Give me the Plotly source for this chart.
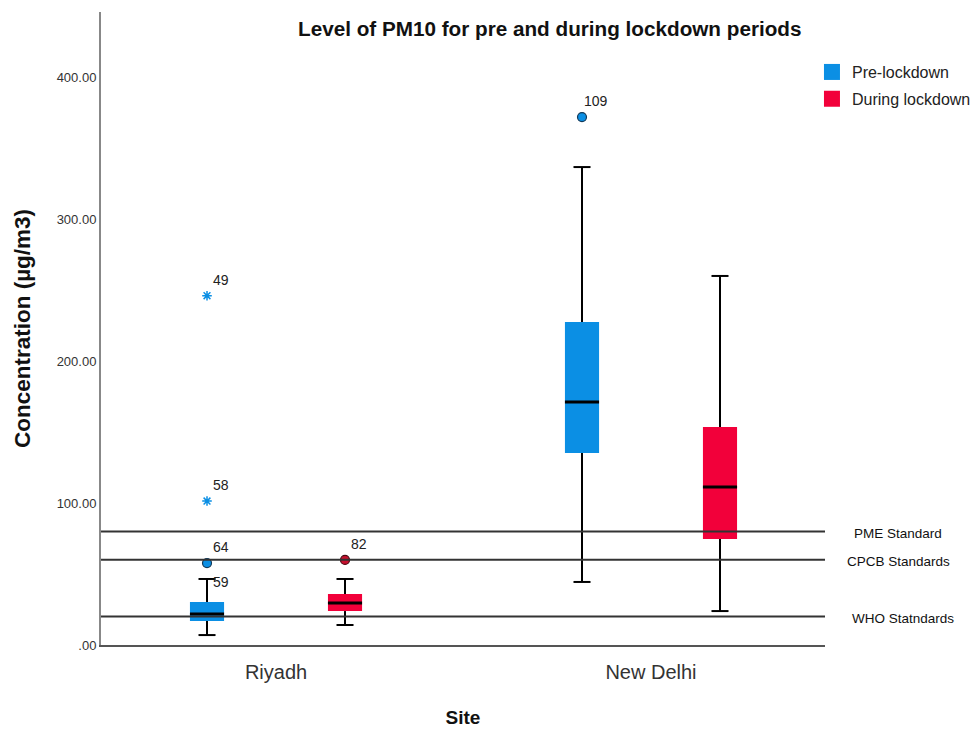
import plotly.graph_objects as go

# ---------------- data ----------------
sites = ["Riyadh", "New Delhi"]
groups = ["Pre-lockdown", "During lockdown"]

pre_lower = [7.0, 44.4]
pre_q1 = [16.9, 135.2]
pre_median = [21.8, 171.1]
pre_q3 = [30.3, 227.5]
pre_upper = [46.5, 336.6]

dur_lower = [14.1, 23.9]
dur_q1 = [23.9, 74.6]
dur_median = [29.6, 111.3]
dur_q3 = [35.9, 153.5]
dur_upper = [46.5, 259.9]

# outliers (site index, value, case label)
pre_out_site = [0, 1]
pre_out_val = [57.7, 371.8]
pre_out_lab = ["64", "109"]
pre_ext_site = [0, 0]
pre_ext_val = [101.4, 246.0]
pre_ext_lab = ["58", "49"]
dur_out_site = [0]
dur_out_val = [59.9]
dur_out_lab = ["82"]
extra_lab_site = [0]
extra_lab_val = [46.5]
extra_lab = ["59"]

std_names = ["PME Standard", "CPCB Standards", "WHO Statndards"]
std_vals = [80, 60, 20]

y_tick_vals = [0, 100, 200, 300, 400]
y_tick_text = [".00", "100.00", "200.00", "300.00", "400.00"]

# ---------------- style ----------------
BLUE = "#0b8fe4"
RED = "#f2003a"
COLORS = [BLUE, RED]
OFFSET = 0.184
BOXW = 0.091
CAPW = 0.0227
FONT = "Liberation Sans, Arial, sans-serif"
NARROW = "Liberation Sans Narrow, Arial Narrow, Liberation Sans, Arial, sans-serif"

fig = go.Figure()


def add_group(name, color, sign, lower, q1, med, q3, upper):
    xs = [i + sign * OFFSET for i in range(len(sites))]
    fig.add_trace(go.Bar(
        x=xs, base=q1, y=[b - a for a, b in zip(q1, q3)], width=BOXW,
        marker=dict(color=color, line=dict(width=0)), name=name,
        showlegend=False, hoverinfo="skip"))
    wx, wy = [], []
    for x, lo, a, b, hi in zip(xs, lower, q1, q3, upper):
        wx += [x, x, None, x, x, None, x - CAPW, x + CAPW, None, x - CAPW, x + CAPW, None]
        wy += [lo, a, None, b, hi, None, lo, lo, None, hi, hi, None]
    fig.add_trace(go.Scatter(x=wx, y=wy, mode="lines", line=dict(color="black", width=2),
                             showlegend=False, hoverinfo="skip"))
    mx, my = [], []
    for x, m in zip(xs, med):
        mx += [x - BOXW / 2, x + BOXW / 2, None]
        my += [m, m, None]
    fig.add_trace(go.Scatter(x=mx, y=my, mode="lines", line=dict(color="black", width=3),
                             showlegend=False, hoverinfo="skip"))
    return xs


add_group(groups[0], BLUE, -1, pre_lower, pre_q1, pre_median, pre_q3, pre_upper)
add_group(groups[1], RED, 1, dur_lower, dur_q1, dur_median, dur_q3, dur_upper)

# legend entries (square swatches)
for g, c in zip(groups, COLORS):
    fig.add_trace(go.Scatter(x=[None], y=[None], mode="markers", name=g, legendgroup=g,
                             marker=dict(symbol="square", size=16, color=c),
                             showlegend=True, hoverinfo="skip"))

# outliers
px = [s - OFFSET for s in pre_out_site]
fig.add_trace(go.Scatter(x=px, y=pre_out_val, mode="markers",
                         marker=dict(symbol="circle", size=9, color=BLUE,
                                     line=dict(color="#123a5a", width=1.2)),
                         showlegend=False, hoverinfo="skip"))
ex = [s - OFFSET for s in pre_ext_site]
fig.add_trace(go.Scatter(x=ex, y=pre_ext_val, mode="markers",
                         marker=dict(symbol="asterisk-open", size=8, color=BLUE,
                                     line=dict(color=BLUE, width=1.5)),
                         showlegend=False, hoverinfo="skip"))
dx = [s + OFFSET for s in dur_out_site]
fig.add_trace(go.Scatter(x=dx, y=dur_out_val, mode="markers",
                         marker=dict(symbol="circle", size=9, color="#c8102e",
                                     line=dict(color="#4a0a12", width=1.2)),
                         showlegend=False, hoverinfo="skip"))

ann = []
for xs_, vs, ls in [(px, pre_out_val, pre_out_lab), (ex, pre_ext_val, pre_ext_lab),
                    (dx, dur_out_val, dur_out_lab)]:
    for x, v, l in zip(xs_, vs, ls):
        ann.append(dict(x=x, y=v, text=l, showarrow=False, xshift=14, yshift=16,
                        font=dict(family=FONT, size=14, color="#222")))
for s, v, l in zip(extra_lab_site, extra_lab_val, extra_lab):
    ann.append(dict(x=s - OFFSET, y=v, text=l, showarrow=False, xshift=14, yshift=-3,
                    font=dict(family=FONT, size=14, color="#222")))

# standard lines
shapes = []
for v in std_vals:
    shapes.append(dict(type="line", xref="paper", x0=0, x1=1, yref="y", y0=v, y1=v,
                       line=dict(color="#333333", width=2), layer="above"))
std_x = [1.1015, 1.1015, 1.108]
for n, v, xp in zip(std_names, std_vals, std_x):
    ann.append(dict(xref="paper", x=xp, y=v, text=n, showarrow=False, xanchor="center",
                    yanchor="middle", yshift=-2,
                    font=dict(family=NARROW, size=13.5, color="#111")))

ann.append(dict(xref="paper", yref="paper", x=0.619, y=1.0, yanchor="middle",
                text="<b>Level of PM10 for pre and during lockdown periods</b>",
                showarrow=False, yshift=-16,
                font=dict(family=FONT, size=20.7, color="#111")))

fig.update_layout(
    width=976, height=733,
    margin=dict(l=101, r=151, t=12, b=88, autoexpand=False),
    paper_bgcolor="white", plot_bgcolor="white",
    barmode="overlay",
    shapes=shapes, annotations=ann,
    legend=dict(x=0.982, y=0.932, xanchor="left", yanchor="top",
                font=dict(family=FONT, size=16, color="#222"),
                bgcolor="rgba(0,0,0,0)", tracegroupgap=3, itemsizing="trace",
                itemwidth=30),
    xaxis=dict(range=[-0.4667, 1.464], tickvals=list(range(len(sites))), ticktext=sites,
               showgrid=False, zeroline=False, showline=True, linecolor="#555", linewidth=2,
               ticks="", ticklabelstandoff=8, tickfont=dict(family=FONT, size=20, color="#333"),
               title=dict(text="<b>Site</b>", font=dict(family=FONT, size=19, color="#111"),
                          standoff=29)),
    yaxis=dict(range=[0, 445.8], tickvals=y_tick_vals, ticktext=y_tick_text,
               showgrid=False, zeroline=False, showline=True, linecolor="#888", linewidth=2,
               ticks="", tickfont=dict(family=FONT, size=13, color="#333"),
               title=dict(text="<b>Concentration (µg/m3)</b>",
                          font=dict(family=FONT, size=22.5, color="#111"), standoff=20)),
)

fig.write_html("out.html")
